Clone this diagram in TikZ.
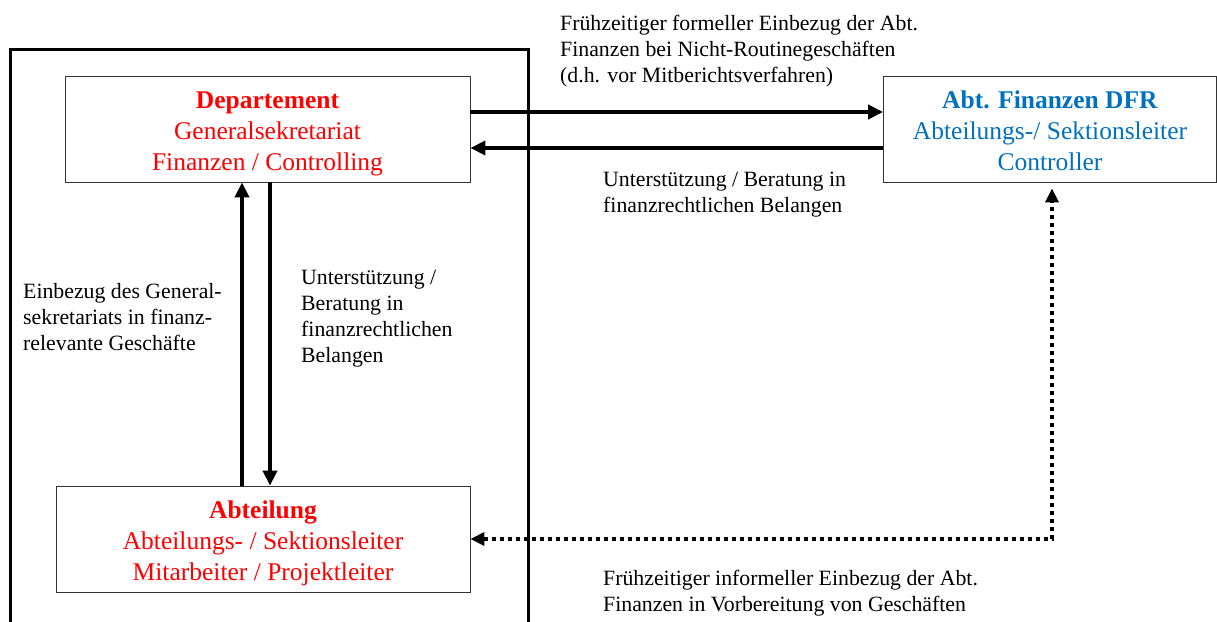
\documentclass[tikz,border=0pt]{standalone}
\usepackage{fontspec}
\setmainfont{Liberation Serif}
\usetikzlibrary{arrows.meta,calc}
\definecolor{dfrblue}{RGB}{0,112,192}
\newcommand\boxstrut{\rule[-6pt]{0pt}{25pt}}
\newcommand\topstrut{\rule[-6pt]{0pt}{33pt}}
\begin{document}
\begin{tikzpicture}[x=1pt,y=-1pt,
  box/.style={draw=black!80, line width=0.8pt, minimum width=#1, minimum height=106pt,
    inner sep=0pt, align=center, font=\fontsize{25.5}{31}\selectfont},
  lbl/.style={anchor=north west, inner sep=0pt, align=left, font=\fontsize{21.8}{26}\selectfont},
  flow/.style={line width=4pt, -{Triangle[length=15pt,width=14pt]}},
  dots/.style={line width=4pt, dash pattern=on 4pt off 4pt,
    {Triangle[length=14pt,width=13pt]}-{Triangle[length=14pt,width=13pt]}}]
\useasboundingbox (0,0) rectangle (1217,621);
\clip (0,0) rectangle (1217,621);

% outer frame
\draw[line width=3pt] (10,640) -- (10,49) -- (528,49) -- (528,640);

% boxes
\node[box=405pt, text=red] (dep) at (267.5,129)
  {\topstrut\textbf{Departement}\\\boxstrut Generalsekretariat\\\boxstrut Finanzen / Controlling};
\node[box=333pt, text=dfrblue] (dfr) at (1050,129)
  {\topstrut\textbf{Abt. Finanzen DFR}\\\boxstrut Abteilungs-/ Sektionsleiter\\\boxstrut Controller};
\node[box=414pt, text=red] (abt) at (263,539)
  {\topstrut\textbf{Abteilung}\\\boxstrut Abteilungs- / Sektionsleiter\\\boxstrut Mitarbeiter / Projektleiter};

% helper coordinates
\coordinate (yA) at (0,112);
\coordinate (yB) at (0,148);
\coordinate (xU) at (242,0);
\coordinate (xD) at (270,0);
\coordinate (xV) at (1052,0);

% connectors
\draw[flow] (dep.east |- yA) -- (dfr.west |- yA);
\draw[flow] (dfr.west |- yB) -- (dep.east |- yB);
\draw[flow] (abt.north -| xU) -- (dep.south -| xU);
\draw[flow] (dep.south -| xD) -- (abt.north -| xD);
\draw[dots, shorten >=6pt] (abt.east) -- (abt.east -| xV) -- (dfr.south -| xV);

% labels
\node[lbl] (t1) at (560,15) {Frühzeitiger formeller Einbezug der Abt.\\Finanzen bei Nicht-Routinegeschäften\\(d.h. vor Mitberichtsverfahren)};
\node[lbl] (t2) at (603,172) {Unterstützung / Beratung in\\finanzrechtlichen Belangen};
\node[lbl] (t3) at (23,283) {Einbezug des General-\\sekretariats in finanz-\\relevante Geschäfte};
\node[lbl] (t4) at (301,270) {Unterstützung /\\Beratung in\\finanzrechtlichen\\Belangen};
\node[lbl] (t5) at (603,570) {Frühzeitiger informeller Einbezug der Abt.\\Finanzen in Vorbereitung von Geschäften};
\end{tikzpicture}
\end{document}
